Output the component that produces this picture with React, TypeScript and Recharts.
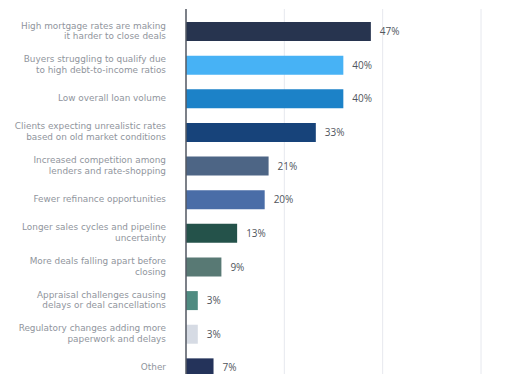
import { BarChart, Bar, XAxis, YAxis, CartesianGrid, Cell, LabelList } from 'recharts';

const categories = [
    'High mortgage rates are making\nit harder to close deals',
    'Buyers struggling to qualify due\nto high debt-to-income ratios',
    'Low overall loan volume',
    'Clients expecting unrealistic rates\nbased on old market conditions',
    'Increased competition among\nlenders and rate-shopping',
    'Fewer refinance opportunities',
    'Longer sales cycles and pipeline\nuncertainty',
    'More deals falling apart before\nclosing',
    'Appraisal challenges causing\ndelays or deal cancellations',
    'Regulatory changes adding more\npaperwork and delays',
    'Other',
];
const shares = [47, 40, 40, 33, 21, 20, 13, 9, 3, 3, 7];
const barColors = [
    '#27344f', '#47b2f5', '#1c82c8', '#17437a', '#4d6585', '#4a6da7',
    '#24524a', '#587974', '#4f8b81', '#d6dbe4', '#24335a',
];
const xTicks = [0, 25, 50, 75];

const data = categories.map((name, i) => ({ name, value: shares[i] }));

const LABEL_FONT = '"DejaVu Sans", sans-serif';
const VALUE_FONT = '"Open Sans", sans-serif';

const CategoryTick = ({ x, y, payload }: any) => {
    const lines = String(payload.value).split('\n');
    const lh = 10.8;
    const start = y - 1 - ((lines.length - 1) * lh) / 2;
    return (
        <text x={x} y={start} textAnchor="end" fontSize={8.9} fill="#90959d" fontFamily={LABEL_FONT}>
            {lines.map((l, i) => (
                <tspan key={i} x={x} y={start + i * lh} dy="0.35em">{l}</tspan>
            ))}
        </text>
    );
};

export default function App() {
    return (
        <div style={{ height: 374, marginBottom: -8, overflow: 'hidden', background: '#fff' }}>
            <BarChart
                width={502}
                height={377}
                data={data}
                layout="vertical"
                margin={{ top: 1, right: 29, bottom: 0, left: 0 }}
            >
                <CartesianGrid horizontal={false} stroke="#e6e8ee" />
                <XAxis type="number" domain={[0, 75]} ticks={xTicks} hide />
                <YAxis
                    type="category"
                    dataKey="name"
                    width={178}
                    padding={{ top: 6, bottom: 0 }}
                    axisLine={{ stroke: '#555a63', strokeWidth: 1.5 }}
                    tickLine={false}
                    tickSize={0}
                    tickMargin={20}
                    interval={0}
                    tick={<CategoryTick />}
                />
                <Bar dataKey="value" barSize={19} isAnimationActive={false}>
                    {data.map((_, i) => <Cell key={i} fill={barColors[i]} />)}
                    <LabelList
                        dataKey="value"
                        position="right"
                        offset={9}
                        formatter={(v: any) => `${v}%`}
                        fill="#50555d"
                        fontSize={10}
                        fontFamily={VALUE_FONT}
                    />
                </Bar>
            </BarChart>
        </div>
    );
}
